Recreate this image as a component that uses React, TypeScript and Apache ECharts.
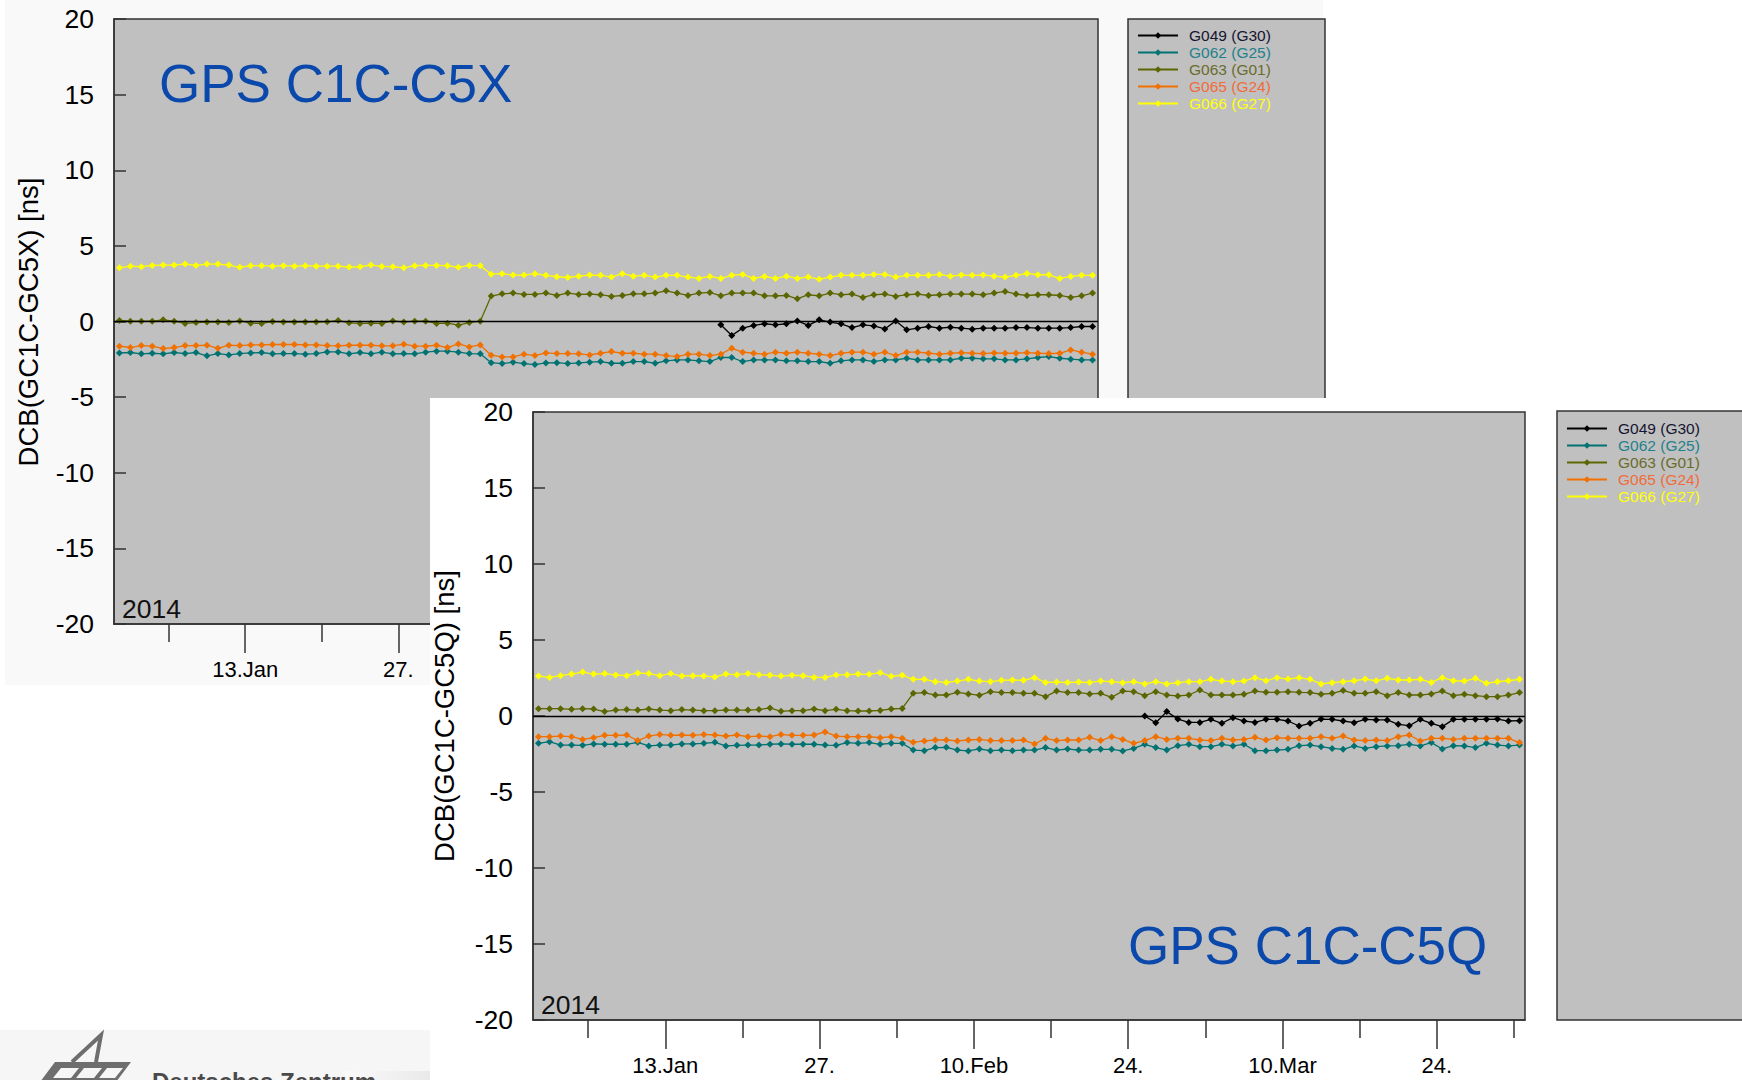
import React, { useEffect, useRef } from "react";
import * as echarts from "echarts";

const FONT = '"Liberation Sans", Arial, Helvetica, sans-serif';

const SAT_NAMES = ["G049 (G30)", "G062 (G25)", "G063 (G01)", "G065 (G24)", "G066 (G27)"];
const SAT_COLORS = ["#000000", "#007272", "#5c6600", "#f07000", "#ffff00"];
const LEGEND_TEXT_COLORS = ["#151530", "#23808c", "#6a6c2c", "#f06c3c", "#ffff10"];

// x axis: days since 2014-01-01 00:00
const X_MIN = 0;
const X_MAX = 90;
const MAJOR_TICK_DAYS = [12, 26, 40, 54, 68, 82];
const MAJOR_TICK_LABELS = ["13.Jan", "27.", "10.Feb", "24.", "10.Mar", "24."];
const MINOR_TICK_DAYS = [5, 19, 33, 47, 61, 75, 89];

// first day index of each series (G049 starts later)
const SERIES_START = [55, 0, 0, 0, 0];

// ---------- GPS C1C-C5X ----------
const C5X_G049 = [-0.22, -0.93, -0.44, -0.26, -0.15, -0.22, -0.15, 0.04, -0.26, 0.11, -0.04, -0.15, -0.4, -0.22, -0.29, -0.49, 0.04, -0.55, -0.44, -0.33, -0.44, -0.38, -0.44, -0.51, -0.44, -0.44, -0.44, -0.4, -0.4, -0.44, -0.44, -0.44, -0.4, -0.33, -0.33];
const C5X_G062 = [-2.08, -2.05, -2.14, -2.1, -2.14, -2.05, -2.12, -2.05, -2.27, -2.12, -2.21, -2.12, -2.08, -2.05, -2.14, -2.12, -2.12, -2.16, -2.12, -2.01, -2.01, -2.14, -2.05, -2.14, -2.03, -2.14, -2.12, -2.14, -2.03, -1.96, -1.96, -2.03, -2.12, -2.14, -2.72, -2.78, -2.69, -2.78, -2.85, -2.74, -2.72, -2.78, -2.74, -2.69, -2.65, -2.76, -2.76, -2.65, -2.65, -2.76, -2.6, -2.54, -2.54, -2.6, -2.65, -2.38, -2.38, -2.65, -2.54, -2.54, -2.54, -2.6, -2.6, -2.65, -2.65, -2.76, -2.6, -2.54, -2.54, -2.65, -2.54, -2.54, -2.43, -2.54, -2.54, -2.54, -2.54, -2.43, -2.43, -2.47, -2.47, -2.54, -2.54, -2.47, -2.38, -2.32, -2.43, -2.49, -2.54, -2.54];
const C5X_G063 = [0.07, 0.02, 0.02, 0.02, 0.11, 0.02, -0.13, -0.07, -0.04, -0.04, -0.07, 0.04, -0.11, -0.13, 0.0, -0.04, -0.04, -0.04, -0.04, -0.02, 0.07, -0.09, -0.13, -0.11, -0.13, 0.04, -0.04, 0.02, 0.02, -0.13, -0.11, -0.24, -0.07, 0.02, 1.68, 1.83, 1.88, 1.79, 1.79, 1.88, 1.72, 1.88, 1.79, 1.81, 1.77, 1.66, 1.72, 1.83, 1.83, 1.88, 2.03, 1.88, 1.72, 1.88, 1.92, 1.7, 1.88, 1.88, 1.88, 1.7, 1.7, 1.72, 1.5, 1.77, 1.7, 1.88, 1.77, 1.81, 1.59, 1.77, 1.81, 1.66, 1.77, 1.81, 1.72, 1.77, 1.81, 1.81, 1.81, 1.77, 1.88, 1.99, 1.81, 1.72, 1.77, 1.77, 1.72, 1.59, 1.7, 1.88];
const C5X_G065 = [-1.63, -1.72, -1.59, -1.63, -1.79, -1.72, -1.59, -1.59, -1.57, -1.77, -1.57, -1.59, -1.55, -1.55, -1.52, -1.52, -1.52, -1.55, -1.55, -1.59, -1.61, -1.57, -1.57, -1.57, -1.61, -1.61, -1.5, -1.63, -1.63, -1.57, -1.72, -1.48, -1.68, -1.55, -2.23, -2.34, -2.34, -2.16, -2.25, -2.08, -2.12, -2.12, -2.14, -2.21, -2.1, -1.99, -2.1, -2.1, -2.16, -2.16, -2.25, -2.32, -2.16, -2.16, -2.25, -2.16, -1.77, -2.03, -2.1, -2.16, -2.03, -2.1, -2.03, -2.1, -2.16, -2.25, -2.1, -2.03, -2.03, -2.16, -2.03, -2.25, -2.03, -2.03, -2.1, -2.16, -2.1, -2.06, -2.1, -2.12, -2.08, -2.1, -2.1, -2.06, -2.1, -2.12, -2.1, -1.88, -2.03, -2.16];
const C5X_G066 = [3.55, 3.66, 3.62, 3.71, 3.73, 3.73, 3.8, 3.71, 3.8, 3.8, 3.73, 3.58, 3.69, 3.69, 3.66, 3.69, 3.66, 3.69, 3.66, 3.66, 3.66, 3.6, 3.62, 3.73, 3.64, 3.62, 3.55, 3.69, 3.71, 3.71, 3.69, 3.58, 3.71, 3.69, 3.13, 3.16, 3.07, 3.07, 3.16, 3.05, 2.96, 2.91, 3.0, 3.07, 3.05, 2.94, 3.16, 3.0, 3.05, 2.94, 3.05, 3.05, 2.94, 2.85, 2.98, 2.85, 3.05, 3.11, 2.85, 2.98, 2.85, 3.0, 2.85, 2.94, 2.8, 2.94, 3.05, 3.05, 3.05, 3.11, 3.11, 2.94, 3.05, 3.05, 3.05, 3.11, 3.0, 3.07, 3.05, 3.07, 3.0, 2.94, 3.05, 3.18, 3.09, 3.09, 2.85, 2.98, 3.05, 3.05];

// ---------- GPS C1C-C5Q ----------
const C5Q_G049 = [0.0, -0.44, 0.29, -0.2, -0.42, -0.42, -0.22, -0.48, -0.11, -0.33, -0.42, -0.22, -0.22, -0.33, -0.66, -0.48, -0.2, -0.22, -0.33, -0.44, -0.22, -0.26, -0.26, -0.55, -0.64, -0.22, -0.48, -0.7, -0.22, -0.22, -0.22, -0.22, -0.2, -0.33, -0.31];
const C5Q_G062 = [-1.8, -1.69, -1.91, -1.91, -1.93, -1.84, -1.86, -1.86, -1.86, -1.73, -1.97, -1.91, -1.91, -1.84, -1.84, -1.8, -1.73, -1.97, -1.93, -1.91, -1.91, -1.86, -1.84, -1.86, -1.86, -1.86, -1.91, -1.93, -1.75, -1.8, -1.75, -1.86, -1.8, -1.8, -2.24, -2.28, -2.08, -2.06, -2.24, -2.3, -2.17, -2.28, -2.24, -2.28, -2.24, -2.24, -2.08, -2.24, -2.17, -2.24, -2.24, -2.19, -2.19, -2.3, -2.13, -1.86, -2.08, -2.24, -1.95, -1.86, -2.02, -2.02, -1.86, -1.97, -1.86, -2.28, -2.28, -2.24, -2.19, -1.95, -1.91, -2.02, -2.13, -2.19, -1.97, -2.13, -2.02, -1.97, -1.95, -1.86, -1.97, -1.75, -2.17, -1.95, -1.97, -2.08, -1.8, -1.91, -1.97, -1.91];
const C5Q_G063 = [0.48, 0.48, 0.48, 0.44, 0.48, 0.46, 0.29, 0.39, 0.42, 0.39, 0.46, 0.39, 0.35, 0.42, 0.39, 0.35, 0.35, 0.39, 0.39, 0.39, 0.42, 0.53, 0.31, 0.35, 0.35, 0.46, 0.35, 0.44, 0.35, 0.33, 0.33, 0.37, 0.46, 0.5, 1.49, 1.54, 1.38, 1.38, 1.56, 1.45, 1.36, 1.6, 1.54, 1.54, 1.49, 1.49, 1.27, 1.64, 1.54, 1.54, 1.45, 1.49, 1.23, 1.64, 1.6, 1.34, 1.6, 1.38, 1.32, 1.38, 1.71, 1.38, 1.38, 1.38, 1.43, 1.64, 1.56, 1.56, 1.6, 1.56, 1.54, 1.43, 1.49, 1.67, 1.49, 1.49, 1.6, 1.34, 1.54, 1.38, 1.38, 1.45, 1.64, 1.34, 1.43, 1.34, 1.27, 1.27, 1.38, 1.54];
const C5Q_G065 = [-1.36, -1.36, -1.32, -1.36, -1.54, -1.43, -1.27, -1.27, -1.25, -1.62, -1.32, -1.21, -1.27, -1.25, -1.27, -1.21, -1.25, -1.32, -1.25, -1.36, -1.32, -1.36, -1.21, -1.27, -1.27, -1.25, -1.05, -1.32, -1.36, -1.36, -1.36, -1.43, -1.36, -1.47, -1.73, -1.64, -1.58, -1.58, -1.64, -1.58, -1.54, -1.62, -1.62, -1.62, -1.58, -1.84, -1.47, -1.62, -1.58, -1.58, -1.4, -1.62, -1.36, -1.54, -1.8, -1.62, -1.36, -1.54, -1.47, -1.47, -1.58, -1.62, -1.47, -1.58, -1.54, -1.4, -1.58, -1.43, -1.47, -1.47, -1.47, -1.36, -1.47, -1.32, -1.58, -1.62, -1.58, -1.62, -1.36, -1.25, -1.64, -1.47, -1.47, -1.54, -1.47, -1.47, -1.47, -1.47, -1.47, -1.75];
const C5Q_G066 = [2.63, 2.54, 2.65, 2.76, 2.89, 2.76, 2.79, 2.7, 2.65, 2.83, 2.79, 2.65, 2.79, 2.63, 2.65, 2.63, 2.57, 2.76, 2.72, 2.79, 2.72, 2.68, 2.63, 2.68, 2.65, 2.54, 2.54, 2.7, 2.72, 2.76, 2.74, 2.85, 2.61, 2.68, 2.41, 2.41, 2.26, 2.21, 2.3, 2.41, 2.3, 2.26, 2.35, 2.37, 2.35, 2.52, 2.21, 2.23, 2.21, 2.23, 2.21, 2.3, 2.26, 2.19, 2.26, 2.11, 2.26, 2.11, 2.19, 2.26, 2.26, 2.41, 2.3, 2.26, 2.3, 2.52, 2.32, 2.52, 2.43, 2.52, 2.41, 2.11, 2.19, 2.26, 2.32, 2.43, 2.32, 2.48, 2.37, 2.37, 2.41, 2.21, 2.52, 2.32, 2.3, 2.48, 2.15, 2.26, 2.32, 2.41];

const Y_MIN = -20;
const Y_MAX = 20;
const Y_INTERVAL = 5;

type PanelCfg = {
  values: number[][];
  grid: { left: number; top: number; width: number; height: number };
  title: string;
  titlePos: [number, number];
  yTitle: string;
  yTitlePos: [number, number];
  yearPos: [number, number];
  legendBox: { x: number; y: number; width: number; height: number };
  legendPos: [number, number];
  extra: any[];
};

const AXIS_COLOR = "#333333";

function buildOption(cfg: PanelCfg) {
  const series = cfg.values.map((vals, i) => ({
    name: SAT_NAMES[i],
    type: "line",
    xAxisIndex: 0,
    yAxisIndex: 0,
    data: vals.map((v, k) => [SERIES_START[i] + k + 0.5, v]),
    symbol: "diamond",
    symbolSize: 7,
    showSymbol: true,
    lineStyle: { color: SAT_COLORS[i], width: 1.3 },
    itemStyle: { color: SAT_COLORS[i] },
    z: 4,
    silent: true,
    markLine:
      i === 0
        ? {
            silent: true,
            symbol: ["none", "none"],
            label: { show: false },
            lineStyle: { color: "#000", width: 1.3, type: "solid" },
            data: [{ yAxis: 0 }],
          }
        : undefined,
  }));

  return {
    animation: false,
    textStyle: { fontFamily: FONT },
    grid: {
      ...cfg.grid,
      show: true,
      backgroundColor: "#c0c0c0",
      borderColor: AXIS_COLOR,
      borderWidth: 1.5,
      z: 2,
      containLabel: false,
    },
    xAxis: [
      {
        type: "value",
        gridIndex: 0,
        position: "bottom",
        min: X_MIN,
        max: X_MAX,
        z: 3,
        axisLine: { show: true, onZero: false, lineStyle: { color: AXIS_COLOR, width: 1.5 } },
        axisTick: {
          show: true,
          inside: false,
          length: 29,
          customValues: MAJOR_TICK_DAYS,
          lineStyle: { color: AXIS_COLOR, width: 1.5 },
        },
        axisLabel: {
          show: true,
          customValues: MAJOR_TICK_DAYS,
          formatter: (v: number) => {
            const idx = MAJOR_TICK_DAYS.indexOf(Math.round(v));
            return idx >= 0 ? MAJOR_TICK_LABELS[idx] : "";
          },
          margin: 34,
          fontSize: 22,
          color: "#000",
          fontFamily: FONT,
        },
        splitLine: { show: false },
      },
      {
        type: "value",
        gridIndex: 0,
        position: "bottom",
        min: X_MIN,
        max: X_MAX,
        z: 3,
        axisLine: { show: false, onZero: false },
        axisTick: {
          show: true,
          inside: false,
          length: 18,
          customValues: MINOR_TICK_DAYS,
          lineStyle: { color: AXIS_COLOR, width: 1.5 },
        },
        axisLabel: { show: false },
        splitLine: { show: false },
      },
    ],
    yAxis: {
      type: "value",
      min: Y_MIN,
      max: Y_MAX,
      interval: Y_INTERVAL,
      z: 3,
      axisLine: { show: true, onZero: false, lineStyle: { color: AXIS_COLOR, width: 1.5 } },
      axisTick: { show: true, inside: true, length: 12, lineStyle: { color: AXIS_COLOR, width: 1.5 } },
      axisLabel: { margin: 20, fontSize: 26.5, color: "#000", fontFamily: FONT },
      splitLine: { show: false },
    },
    legend: {
      show: true,
      orient: "vertical",
      left: cfg.legendPos[0],
      top: cfg.legendPos[1],
      padding: 0,
      itemWidth: 40,
      itemHeight: 8,
      itemGap: 0,
      selectedMode: false,
      z: 6,
      textStyle: { fontSize: 15.5, lineHeight: 17, fontFamily: FONT, padding: [0, 0, 0, 6] },
      data: SAT_NAMES.map((n, i) => ({ name: n, textStyle: { color: LEGEND_TEXT_COLORS[i] } })),
    },
    graphic: [
      ...cfg.extra,
      {
        type: "rect",
        z: 1,
        shape: { ...cfg.legendBox },
        style: { fill: "#c0c0c0", stroke: AXIS_COLOR, lineWidth: 1.5 },
      },
      {
        type: "text",
        z: 10,
        x: cfg.titlePos[0],
        y: cfg.titlePos[1],
        style: {
          text: cfg.title,
          fontSize: 53,
          fontFamily: FONT,
          fill: "#0b48ab",
          align: "left",
          verticalAlign: "middle",
        },
      },
      {
        type: "text",
        z: 10,
        x: cfg.yTitlePos[0],
        y: cfg.yTitlePos[1],
        rotation: Math.PI / 2,
        style: {
          text: cfg.yTitle,
          fontSize: 27.5,
          fontFamily: FONT,
          fill: "#000",
          align: "center",
          verticalAlign: "middle",
        },
      },
      {
        type: "text",
        z: 10,
        x: cfg.yearPos[0],
        y: cfg.yearPos[1],
        style: {
          text: "2014",
          fontSize: 26.5,
          fontFamily: FONT,
          fill: "#111",
          align: "left",
          verticalAlign: "middle",
        },
      },
    ],
    series,
  };
}

const LOGO_GREY = "#6e6e6e";

const PANEL_X: PanelCfg = {
  values: [C5X_G049, C5X_G062, C5X_G063, C5X_G065, C5X_G066],
  grid: { left: 114, top: 19, width: 984, height: 605 },
  title: "GPS C1C-C5X",
  titlePos: [159, 83],
  yTitle: "DCB(GC1C-GC5X) [ns]",
  yTitlePos: [28, 322],
  yearPos: [122, 609],
  legendBox: { x: 1128, y: 19, width: 197, height: 420 },
  legendPos: [1137, 27],
  extra: [
    { type: "rect", z: 0, shape: { x: 5, y: 0, width: 1318, height: 685 }, style: { fill: "#f9f9f9" } },
    { type: "rect", z: 0, shape: { x: 0, y: 1030, width: 430, height: 50 }, style: { fill: "#f6f6f6" } },
    {
      type: "rect",
      z: 0,
      shape: { x: 345, y: 1071, width: 85, height: 9 },
      style: {
        fill: new echarts.graphic.LinearGradient(0, 0, 1, 0, [
          { offset: 0, color: "#fafafa" },
          { offset: 1, color: "#e9e9e9" },
        ]),
      },
    },
    {
      type: "polygon",
      z: 1,
      shape: { points: [[55, 1062], [131, 1062], [113, 1086], [37, 1086]] },
      style: { fill: LOGO_GREY },
    },
    {
      type: "polygon",
      z: 1,
      shape: { points: [[61, 1068], [79, 1068], [71, 1078], [53, 1078]] },
      style: { fill: "#f6f6f6" },
    },
    {
      type: "polygon",
      z: 1,
      shape: { points: [[84, 1068], [102, 1068], [94, 1078], [76, 1078]] },
      style: { fill: "#f6f6f6" },
    },
    {
      type: "polygon",
      z: 1,
      shape: { points: [[107, 1068], [123, 1068], [115, 1078], [99, 1078]] },
      style: { fill: "#f6f6f6" },
    },
    {
      type: "polyline",
      z: 1,
      shape: { points: [[72, 1062], [101, 1035], [96, 1062]] },
      style: { stroke: LOGO_GREY, lineWidth: 4, fill: null },
    },
    {
      type: "text",
      z: 1,
      x: 152,
      y: 1069,
      style: {
        text: "Deutsches Zentrum",
        fontSize: 24,
        fontWeight: "bold",
        fontFamily: FONT,
        fill: "#4a4a4a",
        align: "left",
        verticalAlign: "top",
      },
    },
  ],
};

const PANEL_Q: PanelCfg = {
  values: [C5Q_G049, C5Q_G062, C5Q_G063, C5Q_G065, C5Q_G066],
  grid: { left: 103, top: 14, width: 992, height: 608 },
  title: "GPS C1C-C5Q",
  titlePos: [698, 547],
  yTitle: "DCB(GC1C-GC5Q) [ns]",
  yTitlePos: [14, 318],
  yearPos: [111, 607],
  legendBox: { x: 1127, y: 13, width: 220, height: 609 },
  legendPos: [1136, 22],
  extra: [],
};

export default function App() {
  const ref1 = useRef<HTMLDivElement>(null);
  const ref2 = useRef<HTMLDivElement>(null);

  useEffect(() => {
    const c1 = echarts.init(ref1.current as HTMLDivElement, null, { renderer: "svg" });
    c1.setOption(buildOption(PANEL_X) as any);
    const c2 = echarts.init(ref2.current as HTMLDivElement, null, { renderer: "svg" });
    c2.setOption(buildOption(PANEL_Q) as any);
    return () => {
      c1.dispose();
      c2.dispose();
    };
  }, []);

  return (
    <div
      style={{
        position: "absolute",
        left: 0,
        top: 0,
        width: 1742,
        height: 1080,
        background: "#ffffff",
        overflow: "hidden",
      }}
    >
      <div ref={ref1} style={{ position: "absolute", left: 0, top: 0, width: 1742, height: 1080 }} />
      <div
        ref={ref2}
        style={{ position: "absolute", left: 430, top: 398, width: 1312, height: 682, background: "#ffffff" }}
      />
    </div>
  );
}
